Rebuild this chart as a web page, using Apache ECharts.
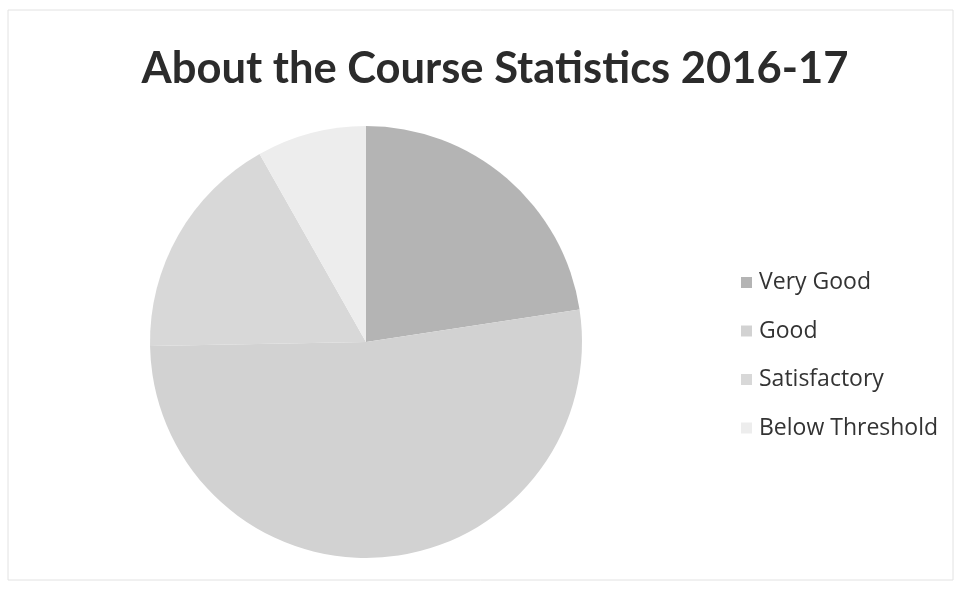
<!DOCTYPE html>
<html>
<head>
<meta charset="utf-8">
<style>
  html, body { margin: 0; padding: 0; background: #ffffff; }
  #chart { width: 957px; height: 593px; }
</style>
<script src="https://cdn.jsdelivr.net/npm/echarts@6/dist/echarts.min.js"></script>
</head>
<body>
<div id="chart"></div>
<script>
const categories = ['Very Good', 'Good', 'Satisfactory', 'Below Threshold'];
const values = [22.6, 52.1, 17.1, 8.2];
const colors = ['#b4b4b4', '#d2d2d2', '#d8d8d8', '#ededed'];
const titleText = 'About the Course Statistics 2016-17';

const chart = echarts.init(document.getElementById('chart'), null, { renderer: 'canvas' });
chart.setOption({
  backgroundColor: '#ffffff',
  animation: false,
  title: {
    text: titleText,
    left: 490,
    textAlign: 'center',
    top: 42,
    textStyle: { fontFamily: 'Lato', fontWeight: 'bold', fontSize: 43.5, color: '#2b2b2b' }
  },
  legend: {
    orient: 'vertical',
    left: 736,
    top: 266,
    itemWidth: 11,
    itemHeight: 11,
    itemGap: 25.5,
    icon: 'rect',
    data: categories,
    textStyle: { fontFamily: 'Open Sans', fontSize: 23, color: '#333333', padding: [0, 0, 0, 2] }
  },
  graphic: [{
    type: 'rect',
    shape: { x: 8, y: 10, width: 945, height: 570 },
    style: { fill: 'none', stroke: '#e2e2e2', lineWidth: 1 },
    silent: true
  }],
  series: [{
    type: 'pie',
    center: [366, 342],
    radius: 216,
    startAngle: 90,
    clockwise: true,
    label: { show: false },
    labelLine: { show: false },
    itemStyle: { borderWidth: 0 },
    emphasis: { disabled: true },
    data: categories.map((c, i) => ({ name: c, value: values[i], itemStyle: { color: colors[i] } }))
  }]
});
</script>
</body>
</html>
